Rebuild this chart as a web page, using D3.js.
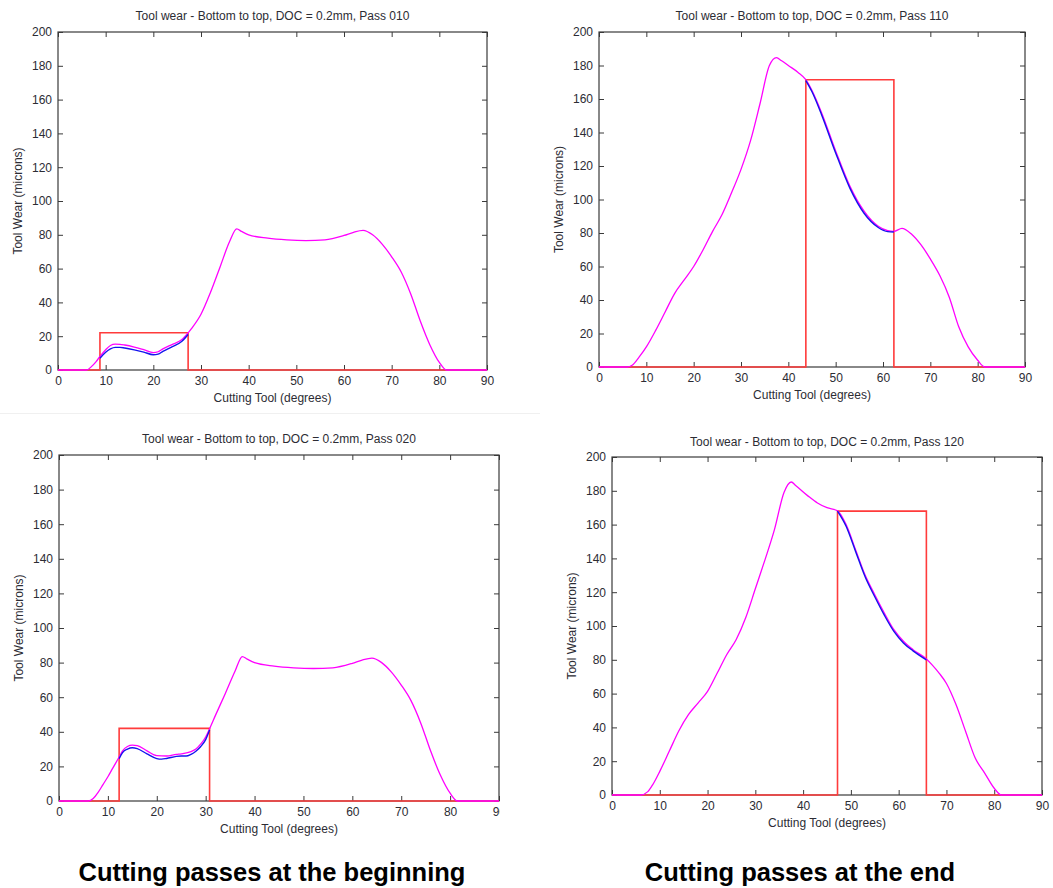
<!DOCTYPE html>
<html>
<head>
<meta charset="utf-8">
<script src="https://cdn.jsdelivr.net/npm/d3@7"></script>
<style>
  html, body { margin: 0; padding: 0; background: #ffffff; }
  svg { display: block; font-family: "Liberation Sans", Arial, sans-serif; }
</style>
</head>
<body>
<script>
// ---------------- DATA ----------------
const xTickValues = [0, 10, 20, 30, 40, 50, 60, 70, 80, 90];
const yTickValues = [0, 20, 40, 60, 80, 100, 120, 140, 160, 180, 200];
const xDomain = [0, 90];
const yDomain = [0, 200];

const panelTitles = [
  "Tool wear - Bottom to top, DOC = 0.2mm, Pass 010",
  "Tool wear - Bottom to top, DOC = 0.2mm, Pass 110",
  "Tool wear - Bottom to top, DOC = 0.2mm, Pass 020",
  "Tool wear - Bottom to top, DOC = 0.2mm, Pass 120"
];
const xAxisLabel = "Cutting Tool (degrees)";
const yAxisLabel = "Tool Wear (microns)";
const captions = ["Cutting passes at the beginning", "Cutting passes at the end"];

// Pass 010 – full profile (magenta)
const angle010 = [0, 6, 7, 8, 8.8, 10, 11, 12, 13, 14, 16, 18, 20, 21, 22, 24, 26, 27.3, 28, 30, 32, 34, 36, 37.5, 38.5, 40, 44, 48, 52, 56, 60, 62, 64, 66, 68, 70, 72, 74, 76, 78, 80, 81.5, 90];
const wear010  = [0, 0, 2, 5, 8, 12, 14.5, 15.3, 15.2, 14.8, 13.6, 12, 10.3, 10.8, 12.5, 15.2, 18, 22, 24.5, 33, 46, 61, 76, 83.5, 82, 80, 78, 77, 76.6, 77, 79.6, 81.5, 82.6, 80, 74.5, 67, 58, 45, 29, 15, 4.5, 0, 0];
// Pass 010 – current pass within window (blue)
const angle010Pass = [8.8, 10, 11, 12, 13, 14, 16, 18, 20, 21, 22, 24, 26, 27.3];
const wear010Pass  = [7, 10.5, 12.5, 13.4, 13.4, 13, 11.9, 10.6, 9, 9.4, 11, 13.8, 17, 21];
// Pass 010 – window [start, end, height] (red)
const window010 = [8.8, 27.3, 22];

// Pass 020
const angle020 = [0, 6, 7, 8, 9, 10, 11, 12.3, 13, 14, 15, 16, 18, 20, 22, 24, 25, 27, 28, 29, 30, 30.8, 32, 34, 36, 37.5, 38.5, 40, 44, 48, 52, 56, 60, 62, 64, 66, 68, 70, 72, 74, 76, 78, 80, 81.5, 90];
const wear020  = [0, 0, 1.5, 5, 9.5, 14, 19, 25.4, 29, 31.5, 32.3, 32, 29, 26.2, 26, 27, 27.3, 28.5, 30, 33, 37, 41.8, 49.5, 62, 75, 83.5, 82, 80, 78, 77, 76.6, 77, 79.6, 81.5, 82.6, 80, 74.5, 67, 58, 45, 29, 15, 4.5, 0, 0];
const angle020Pass = [12.3, 13, 14, 15, 16, 18, 20, 21, 22, 24, 25, 26, 27, 28, 29, 30, 30.8];
const wear020Pass  = [24.5, 28, 30, 30.8, 30.3, 27.2, 24.5, 24.2, 24.6, 25.8, 26, 26, 27, 28.8, 31.5, 35.5, 41];
const window020 = [12.3, 30.8, 42];

// Pass 110
const angle110 = [0, 6, 7, 8.5, 10, 12, 14, 16, 18, 20, 22, 24, 26, 28, 30, 32, 34, 36, 37.5, 38.5, 40, 42, 43.7, 45, 47, 50, 53, 56, 59, 61, 62.3, 64, 66, 68, 70, 72, 74, 76, 78, 80, 81.5, 90];
const wear110  = [0, 0, 1, 6, 12, 22, 33, 44, 52, 60, 70, 81, 91, 104, 118, 135, 157, 180, 184.7, 183, 180, 176, 171.5, 165, 152, 129, 108, 93, 84, 81.4, 81, 82.8, 79.4, 73, 64.5, 54.6, 41.7, 24, 12, 4, 0, 0];
const angle110Pass = [43.7, 45, 47, 50, 53, 56, 59, 61, 62.3];
const wear110Pass  = [171, 164.3, 150.8, 127.8, 106.8, 91.8, 83.3, 80.8, 80.6];
const window110 = [43.7, 62.3, 171.5];

// Pass 120
const angle120 = [0, 6, 7.5, 8.5, 10, 12, 14, 16, 18, 20, 22, 24, 26, 28, 30, 32, 34, 36, 37.5, 38.5, 41, 43, 45, 47.2, 49, 51, 53, 55, 57, 59, 61, 63, 65.8, 67, 68.5, 70, 72, 74, 76, 78, 80, 81.5, 90];
const wear120  = [0, 0, 2, 6, 14, 26, 38, 47.5, 54.4, 61.3, 72, 83, 92, 105, 122, 139, 157, 179, 185.2, 183, 177, 172.8, 170, 168.2, 160, 145, 130, 118.5, 107.7, 97.8, 91, 86, 80.5, 77, 72, 66, 53.5, 37.7, 22, 13, 4, 0, 0];
const angle120Pass = [47.2, 49, 51, 53, 55, 57, 59, 61, 63, 65.8];
const wear120Pass  = [168, 159, 144, 129, 117.3, 106.4, 96.8, 90, 85.3, 80];
const window120 = [47.2, 65.8, 168];

// ---------------- LAYOUT ----------------
const W = 1053, H = 888;
const panels = [
  { title: panelTitles[0], ang: angle010, wear: wear010, pAng: angle010Pass, pWear: wear010Pass, win: window010,
    left: 58, right: 487, top: 32, bottom: 370, titleY: 16, clipRight: null },
  { title: panelTitles[1], ang: angle110, wear: wear110, pAng: angle110Pass, pWear: wear110Pass, win: window110,
    left: 599, right: 1025, top: 32, bottom: 367, titleY: 16, clipRight: null },
  { title: panelTitles[2], ang: angle020, wear: wear020, pAng: angle020Pass, pWear: wear020Pass, win: window020,
    left: 59, right: 499, top: 455, bottom: 801, titleY: 439, clipRight: 500 },
  { title: panelTitles[3], ang: angle120, wear: wear120, pAng: angle120Pass, pWear: wear120Pass, win: window120,
    left: 612, right: 1042, top: 457, bottom: 795, titleY: 442, clipRight: null }
];

const textColor = "#2c2c34";
const frameColor = "#3a3a3a";

const svg = d3.select("body").append("svg")
  .attr("width", W).attr("height", H)
  .attr("viewBox", `0 0 ${W} ${H}`);

svg.append("rect").attr("width", W).attr("height", H).attr("fill", "#ffffff");

// faint separator of the pasted figures
svg.append("line").attr("x1", 0).attr("x2", 540).attr("y1", 413.5).attr("y2", 413.5)
  .attr("stroke", "#f0f0f0").attr("stroke-width", 1);

const defs = svg.append("defs");

panels.forEach((p, i) => {
  const w = p.right - p.left, h = p.bottom - p.top;
  const x = d3.scaleLinear().domain(xDomain).range([0, w]);
  const y = d3.scaleLinear().domain(yDomain).range([h, 0]);

  let outer = svg.append("g");
  if (p.clipRight !== null) {
    defs.append("clipPath").attr("id", "clip" + i)
      .append("rect").attr("x", 0).attr("y", 0).attr("width", p.clipRight).attr("height", H);
    outer.attr("clip-path", `url(#clip${i})`);
  }
  const g = outer.append("g").attr("transform", `translate(${p.left},${p.top})`);

  // title
  outer.append("text")
    .attr("x", p.left + w / 2).attr("y", p.titleY)
    .attr("text-anchor", "middle").attr("dominant-baseline", "central")
    .attr("font-size", 12).attr("fill", textColor)
    .text(p.title);

  // axes with inward ticks on all sides
  const styleAxis = sel => {
    sel.select(".domain").remove();
    sel.selectAll(".tick line").attr("stroke", frameColor).attr("stroke-width", 1);
    sel.selectAll(".tick text").attr("fill", textColor).attr("font-size", 12)
      .attr("font-family", "'Liberation Sans', Arial, sans-serif");
  };
  g.append("g").attr("transform", `translate(0,${h})`)
    .call(d3.axisBottom(x).tickValues(xTickValues).tickSize(-5).tickPadding(6))
    .call(styleAxis);
  g.append("g")
    .call(d3.axisTop(x).tickValues(xTickValues).tickSize(-5).tickFormat(""))
    .call(styleAxis);
  g.append("g")
    .call(d3.axisLeft(y).tickValues(yTickValues).tickSize(-5).tickPadding(6))
    .call(styleAxis);
  g.append("g").attr("transform", `translate(${w},0)`)
    .call(d3.axisRight(y).tickValues(yTickValues).tickSize(-5).tickFormat(""))
    .call(styleAxis);

  // frame
  g.append("rect").attr("x", 0).attr("y", 0).attr("width", w).attr("height", h)
    .attr("fill", "none").attr("stroke", frameColor).attr("stroke-width", 1.2);

  // axis labels
  outer.append("text")
    .attr("x", p.left + w / 2).attr("y", p.bottom + 28)
    .attr("text-anchor", "middle").attr("dominant-baseline", "central")
    .attr("font-size", 12).attr("fill", textColor)
    .text(xAxisLabel);
  outer.append("text")
    .attr("transform", `translate(${p.left - 40},${p.top + h / 2}) rotate(-90)`)
    .attr("text-anchor", "middle").attr("dominant-baseline", "central")
    .attr("font-size", 12).attr("fill", textColor)
    .text(yAxisLabel);

  // red window function: 0 .. start, height .. end, 0 .. 90
  const [ws, we, wh] = p.win;
  const winX = [xDomain[0], ws, ws, we, we, xDomain[1]];
  const winY = [0, 0, wh, wh, 0, 0];
  const straight = d3.line().x((d, k) => x(winX[k])).y((d, k) => y(winY[k]));
  g.append("path").datum(winX)
    .attr("d", straight)
    .attr("fill", "none").attr("stroke", "#ff3b3b").attr("stroke-width", 1.6);

  // magenta wear profile
  const smooth = (xs, ys) => d3.line().curve(d3.curveMonotoneX)
    .x((d, k) => x(xs[k])).y((d, k) => y(ys[k]));
  g.append("path").datum(p.ang)
    .attr("d", smooth(p.ang, p.wear))
    .attr("fill", "none").attr("stroke", "#ff00ff").attr("stroke-width", 1.3);

  // blue current pass
  g.append("path").datum(p.pAng)
    .attr("d", smooth(p.pAng, p.pWear))
    .attr("fill", "none").attr("stroke", "#1414ee").attr("stroke-width", 1.4);
});

// captions
const capX = [272, 800];
captions.forEach((c, i) => {
  svg.append("text")
    .attr("x", capX[i]).attr("y", 881)
    .attr("text-anchor", "middle")
    .attr("font-size", 25.5).attr("font-weight", "bold").attr("fill", "#000")
    .text(c);
});
</script>
</body>
</html>
